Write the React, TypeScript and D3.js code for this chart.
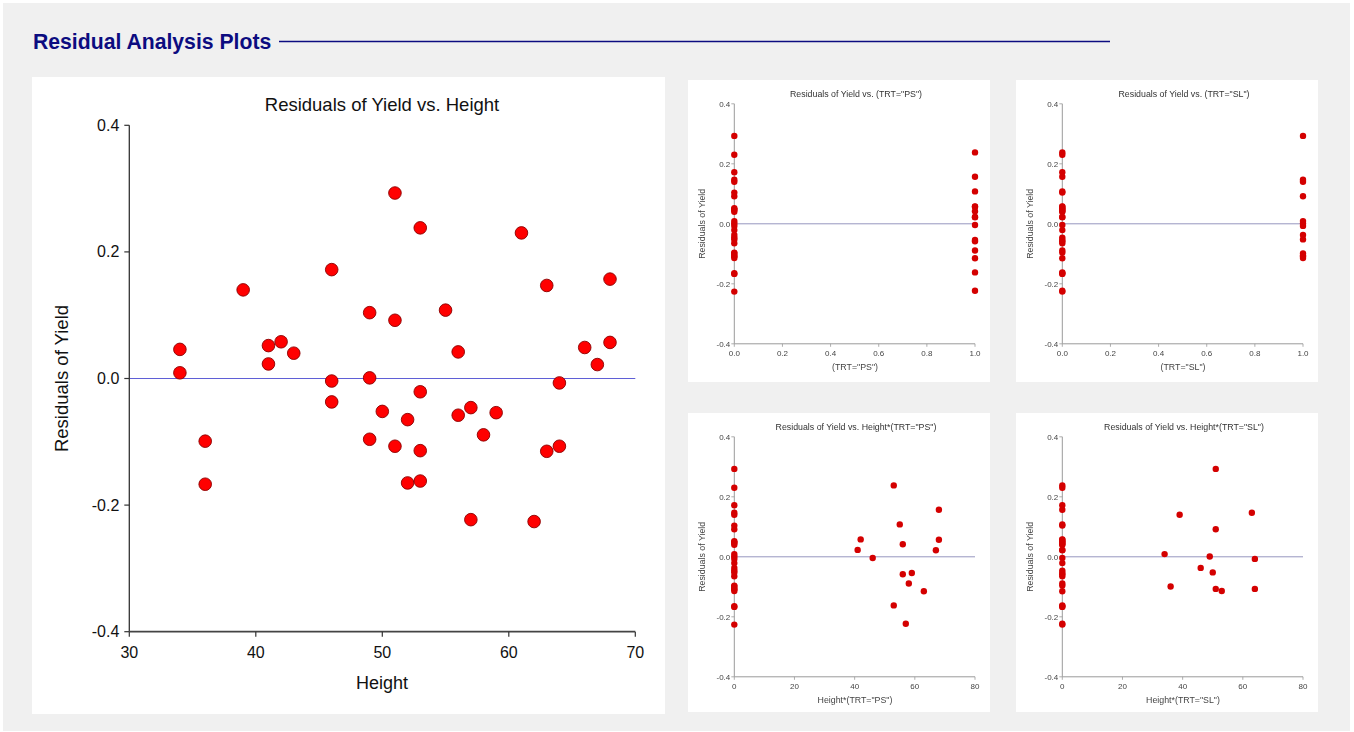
import React from "react";
import * as d3 from "d3";

// Plant heights (cm) of each plot, in order of height
const heights = [
  34, 34, 36, 36, 39, 41, 41, 42, 43, 46, 46, 46, 49, 49, 49, 50, 51, 51, 51, 52, 52,
  53, 53, 53, 53, 55, 56, 56, 57, 57, 58, 59, 61, 62, 63, 63, 64, 64, 66, 67, 68, 68,
];

// Residuals of Yield from the fitted model, one per plot
const residuals = [
  0.046, 0.009, -0.099, -0.167, 0.14, 0.052, 0.023, 0.058, 0.04, 0.172, -0.004, -0.037,
  0.104, 0.001, -0.096, -0.052, 0.293, 0.092, -0.107, -0.065, -0.165, 0.238, -0.021,
  -0.114, -0.162, 0.108, 0.042, -0.058, -0.046, -0.223, -0.089, -0.054, 0.23, -0.226,
  0.147, -0.115, -0.007, -0.107, 0.049, 0.022, 0.157, 0.057,
];

// Treatment of each plot
const treatments = [
  "CK", "SL", "SL", "CK", "SL", "CK", "PS", "PS", "CK", "CK", "PS", "SL", "CK", "SL",
  "CK", "SL", "SL", "SL", "SL", "CK", "CK", "PS", "CK", "SL", "PS", "PS", "PS", "PS",
  "CK", "PS", "PS", "PS", "CK", "CK", "SL", "PS", "SL", "SL", "CK", "PS", "PS", "PS",
];

const residualTicks = [-0.4, -0.2, 0.0, 0.2, 0.4];
const heightTicks = [30, 40, 50, 60, 70];
const indicatorTicks = [0, 0.2, 0.4, 0.6, 0.8, 1.0];
const interactionTicks = [0, 20, 40, 60, 80];

const FONT = "'Liberation Sans', Arial, Helvetica, sans-serif";
const fmt1 = (v: number) => v.toFixed(1);
const fmt0 = (v: number) => String(v);

type Pt = { x: number; y: number };

function MainPlot() {
  const x = d3.scaleLinear().domain([30, 70]).range([129.3, 635.3]);
  const y = d3.scaleLinear().domain([-0.4, 0.4]).range([631.7, 125.3]);
  const pts: Pt[] = heights.map((h, i) => ({ x: h, y: residuals[i] }));
  const [x0, x1] = x.range();
  const [yb, yt] = y.range();
  return (
    <g fontFamily={FONT}>
      <rect x={32} y={77} width={633} height={637} fill="#ffffff" />
      <text x={382} y={111} fontSize={18.5} textAnchor="middle" fill="#111">
        Residuals of Yield vs. Height
      </text>
      {/* zero reference line */}
      <line x1={x0} x2={x1} y1={y(0)} y2={y(0)} stroke="#5f5fd6" strokeWidth={1.2} />
      {/* y axis */}
      <line x1={x0} x2={x0} y1={yt} y2={yb} stroke="#333" strokeWidth={1.3} />
      {residualTicks.map((t) => (
        <g key={t}>
          <line x1={x0 - 5} x2={x0} y1={y(t)} y2={y(t)} stroke="#333" strokeWidth={1.2} />
          <text x={x0 - 10} y={y(t) + 5.5} fontSize={16} textAnchor="end" fill="#111">
            {fmt1(t)}
          </text>
        </g>
      ))}
      {/* x axis */}
      <line x1={x0} x2={x1} y1={yb} y2={yb} stroke="#444" strokeWidth={1.8} />
      {heightTicks.map((t) => (
        <g key={t}>
          <line x1={x(t)} x2={x(t)} y1={yb} y2={yb + 5} stroke="#333" strokeWidth={1.2} />
          <text x={x(t)} y={yb + 26} fontSize={16} textAnchor="middle" fill="#111">
            {fmt0(t)}
          </text>
        </g>
      ))}
      <text x={382} y={689} fontSize={18} textAnchor="middle" fill="#111">
        Height
      </text>
      <text
        transform={`translate(68,${y(0)}) rotate(-90)`}
        fontSize={18.5}
        textAnchor="middle"
        fill="#111"
      >
        Residuals of Yield
      </text>
      {pts.map((p, i) => (
        <circle
          key={i}
          cx={x(p.x)}
          cy={y(p.y)}
          r={6.3}
          fill="#ff0000"
          stroke="#8a0000"
          strokeWidth={0.9}
        />
      ))}
    </g>
  );
}

type SmallProps = {
  left: number;
  top: number;
  height: number;
  title: string;
  xTitle: string;
  xDomain: [number, number];
  xTicks: number[];
  xFormat: (v: number) => string;
  points: Pt[];
};

function SmallPlot({ left, top, height, title, xTitle, xDomain, xTicks, xFormat, points }: SmallProps) {
  const x = d3.scaleLinear().domain(xDomain).range([left + 46.3, left + 287]);
  const y = d3.scaleLinear().domain([-0.4, 0.4]).range([top + 263.8, top + 23.8]);
  const [x0, x1] = x.range();
  const [yb, yt] = y.range();
  return (
    <g fontFamily={FONT}>
      <rect x={left} y={top} width={302} height={height} fill="#ffffff" />
      <g filter="url(#soft)">
        <text x={left + 168} y={top + 16.5} fontSize={8.8} textAnchor="middle" fill="#333">
          {title}
        </text>
        <line x1={x0} x2={x1} y1={y(0)} y2={y(0)} stroke="#8a8ab8" strokeWidth={0.9} />
        <line x1={x0} x2={x0} y1={yt} y2={yb} stroke="#9a9a9a" strokeWidth={1} />
        {residualTicks.map((t) => (
          <g key={t}>
            <line x1={x0 - 3} x2={x0} y1={y(t)} y2={y(t)} stroke="#9a9a9a" strokeWidth={0.8} />
            <text x={x0 - 4} y={y(t) + 2.8} fontSize={8} textAnchor="end" fill="#444">
              {fmt1(t)}
            </text>
          </g>
        ))}
        <line x1={x0} x2={x1} y1={yb} y2={yb} stroke="#9a9a9a" strokeWidth={1} />
        {xTicks.map((t) => (
          <g key={t}>
            <line x1={x(t)} x2={x(t)} y1={yb} y2={yb + 3} stroke="#9a9a9a" strokeWidth={0.8} />
            <text x={x(t)} y={yb + 12.5} fontSize={8} textAnchor="middle" fill="#444">
              {xFormat(t)}
            </text>
          </g>
        ))}
        <text x={left + 167} y={yb + 26.5} fontSize={8.8} textAnchor="middle" fill="#444">
          {xTitle}
        </text>
        <text
          transform={`translate(${left + 17},${y(0)}) rotate(-90)`}
          fontSize={8.8}
          textAnchor="middle"
          fill="#444"
        >
          Residuals of Yield
        </text>
        {points.map((p, i) => (
          <circle key={i} cx={x(p.x)} cy={y(p.y)} r={3.2} fill="#d40000" />
        ))}
      </g>
    </g>
  );
}

export default function App() {
  const isPS = treatments.map((t) => (t === "PS" ? 1 : 0));
  const isSL = treatments.map((t) => (t === "SL" ? 1 : 0));
  const psPts = residuals.map((r, i) => ({ x: isPS[i], y: r }));
  const slPts = residuals.map((r, i) => ({ x: isSL[i], y: r }));
  const psHeightPts = residuals.map((r, i) => ({ x: heights[i] * isPS[i], y: r }));
  const slHeightPts = residuals.map((r, i) => ({ x: heights[i] * isSL[i], y: r }));

  return (
    <svg
      width={1354}
      height={732}
      style={{ position: "absolute", left: 0, top: 0, display: "block" }}
    >
      <defs>
        <filter id="soft" x="-5%" y="-5%" width="110%" height="110%">
          <feGaussianBlur stdDeviation={0.45} />
        </filter>
      </defs>
      <rect x={0} y={0} width={1354} height={732} fill="#ffffff" />
      <rect x={3} y={3} width={1347} height={728} fill="#f0f0f0" />
      <text
        x={33}
        y={49}
        fontFamily={FONT}
        fontSize={21.2}
        fontWeight="bold"
        fill="#0c0c80"
      >
        Residual Analysis Plots
      </text>
      <line x1={279} x2={1110} y1={41.5} y2={41.5} stroke="#0c0c80" strokeWidth={1.6} />

      <MainPlot />

      <SmallPlot
        left={688}
        top={80}
        height={302}
        title={'Residuals of Yield vs. (TRT="PS")'}
        xTitle={'(TRT="PS")'}
        xDomain={[0, 1]}
        xTicks={indicatorTicks}
        xFormat={fmt1}
        points={psPts}
      />
      <SmallPlot
        left={1016}
        top={80}
        height={302}
        title={'Residuals of Yield vs. (TRT="SL")'}
        xTitle={'(TRT="SL")'}
        xDomain={[0, 1]}
        xTicks={indicatorTicks}
        xFormat={fmt1}
        points={slPts}
      />
      <SmallPlot
        left={688}
        top={413}
        height={299}
        title={'Residuals of Yield vs. Height*(TRT="PS")'}
        xTitle={'Height*(TRT="PS")'}
        xDomain={[0, 80]}
        xTicks={interactionTicks}
        xFormat={fmt0}
        points={psHeightPts}
      />
      <SmallPlot
        left={1016}
        top={413}
        height={299}
        title={'Residuals of Yield vs. Height*(TRT="SL")'}
        xTitle={'Height*(TRT="SL")'}
        xDomain={[0, 80]}
        xTicks={interactionTicks}
        xFormat={fmt0}
        points={slHeightPts}
      />
    </svg>
  );
}
